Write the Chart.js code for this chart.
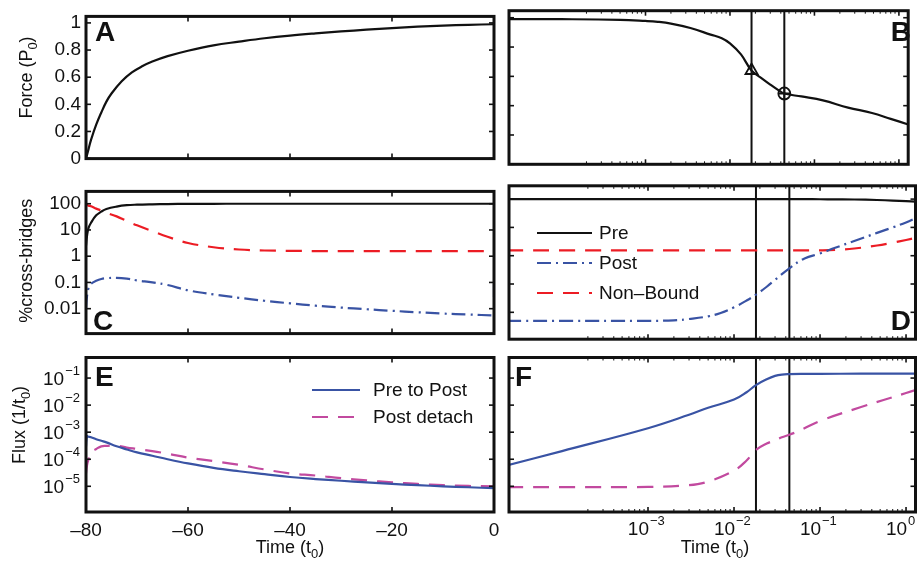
<!DOCTYPE html>
<html>
<head>
<meta charset="utf-8">
<script src="https://cdn.jsdelivr.net/npm/chart.js@4.4.1/dist/chart.umd.min.js"></script>
<style>
  body { margin: 0; background: #fff; }
  #wrap { position: relative; width: 917px; height: 569px; overflow: hidden; }
  canvas { position: absolute; }
</style>
</head>
<body>
<div id="wrap">
  <canvas id="pA" width="500" height="175" style="left:0;top:0"></canvas>
  <canvas id="pB" width="417" height="175" style="left:500px;top:0"></canvas>
  <canvas id="pC" width="500" height="175" style="left:0;top:175px"></canvas>
  <canvas id="pD" width="417" height="175" style="left:500px;top:175px"></canvas>
  <canvas id="pE" width="500" height="219" style="left:0;top:350px"></canvas>
  <canvas id="pF" width="417" height="219" style="left:500px;top:350px"></canvas>
</div>
<script>
var FONT = '"Liberation Sans", Arial, Helvetica, sans-serif';
Chart.defaults.font.family = FONT;
Chart.defaults.font.size = 19;
Chart.defaults.color = '#111';

var INK = '#111', RED = '#ec1c24', BLUE = '#3953a4', MAGENTA = '#c24a9f';

// ---- axis ranges / ticks
var TMIN = Math.pow(10, -4.616), TMAX = Math.pow(10, 0.11);
var FORCE_MAX = 1.048;
var PCT_MIN = Math.pow(10, -2.95), PCT_MAX = Math.pow(10, 2.47);
var FLUX_MIN = Math.pow(10, -5.95), FLUX_MAX = Math.pow(10, -0.24);

var leftTimeTicks = [-80, -60, -40, -20, 0];
var logTimeTicks = [1e-3, 1e-2, 1e-1, 1];
var forceTicks = [0, 0.2, 0.4, 0.6, 0.8, 1];
var bridgeTicks = [0.01, 0.1, 1, 10, 100];
var fluxTicks = [1e-5, 1e-4, 1e-3, 1e-2, 1e-1];

var seriesNames = ['Pre', 'Post', 'Non\u2013Bound'];
var fluxNames = ['Pre to Post', 'Post detach'];

// switch times (vertical lines, markers)
var switchTimes = [0.018, 0.044];

// ---- A: force during activation
var timeA = [-80, -79.5, -79, -78, -77, -76, -75, -73, -71, -69, -67, -64, -60, -55, -50, -45, -40, -35, -30, -25, -20, -15, -10, -5, 0];
var forceA = [0, 0.07, 0.14, 0.25, 0.34, 0.42, 0.48, 0.57, 0.635, 0.68, 0.715, 0.755, 0.795, 0.835, 0.862, 0.887, 0.907, 0.923, 0.937, 0.95, 0.962, 0.972, 0.98, 0.986, 0.99];

// ---- B: force after release (log time)
var timeB = [2.3e-5, 1e-4, 5e-4, 1e-3, 1.4e-3, 2e-3, 3.4e-3, 5.9e-3, 0.008, 0.01, 0.0135, 0.018, 0.024, 0.03, 0.037, 0.044, 0.07, 0.126, 0.25, 0.48, 0.8, 1.29];
var forceB = [0.99, 0.99, 0.986, 0.978, 0.972, 0.96, 0.93, 0.885, 0.86, 0.825, 0.75, 0.64, 0.585, 0.544, 0.508, 0.483, 0.463, 0.436, 0.387, 0.35, 0.31, 0.272];

// ---- C: % cross-bridges during activation
var timeC = [-80, -79.8, -79.5, -79, -78, -77, -76, -74, -72, -70, -67, -64, -60, -55, -50, -45, -40, -35, -30, -25, -20, -15, -10, -5, 0];
var preC = [2.5, 6, 12, 19, 36, 50, 63, 78, 88, 92, 95, 97, 98.5, 99.5, 100, 100, 100, 100, 100, 100, 100, 100, 100, 100, 100];
var nonC = [100, 90, 85, 80, 65, 55, 45, 33, 22, 15, 9, 5.5, 3.2, 2.2, 1.8, 1.65, 1.6, 1.57, 1.55, 1.55, 1.55, 1.55, 1.55, 1.55, 1.55];
var postC = [0.01, 0.03, 0.06, 0.09, 0.115, 0.135, 0.145, 0.15, 0.14, 0.12, 0.1, 0.08, 0.05, 0.035, 0.026, 0.02, 0.016, 0.013, 0.011, 0.0095, 0.0083, 0.0073, 0.0065, 0.006, 0.0055];
var timeCEnd = [0, 0];
var postCEnd = [0.028, 0.09];

// ---- D: % cross-bridges after release
var timeD = [2.3e-5, 1e-4, 1e-3, 2e-3, 3e-3, 5e-3, 7e-3, 0.01, 0.014, 0.018, 0.024, 0.03, 0.044, 0.066, 0.1, 0.15, 0.25, 0.46, 0.7, 1.0, 1.32];
var preD = [100, 100, 100, 100, 100, 100, 100, 100, 100, 100, 100, 100, 100, 100, 99, 98, 97, 93, 89, 85, 82];
var nonD = [1.55, 1.55, 1.55, 1.55, 1.55, 1.55, 1.55, 1.55, 1.55, 1.55, 1.55, 1.55, 1.55, 1.55, 1.55, 1.6, 1.8, 2.3, 2.9, 3.6, 4.3];
var postD = [0.005, 0.005, 0.005, 0.0052, 0.0058, 0.0072, 0.0095, 0.015, 0.026, 0.042, 0.08, 0.14, 0.36, 0.8, 1.2, 1.9, 3.3, 6.4, 10, 15, 22];

// ---- E: flux during activation
var timeE = [-80, -79.8, -79.5, -79, -78, -77, -76, -74, -72, -70, -67, -64, -60, -55, -50, -45, -40, -35, -30, -25, -20, -15, -10, -5, 0];
var preToPostE = [3e-4, 7e-4, 6.8e-4, 6.5e-4, 5.5e-4, 4.8e-4, 4.2e-4, 3e-4, 2.3e-4, 1.8e-4, 1.35e-4, 1e-4, 7e-5, 4.8e-5, 3.6e-5, 2.8e-5, 2.2e-5, 1.85e-5, 1.6e-5, 1.4e-5, 1.22e-5, 1.1e-5, 1e-5, 9.2e-6, 8.5e-6];
var detachE = [3e-5, 6e-5, 1e-4, 1.8e-4, 2.4e-4, 3e-4, 3.1e-4, 3.2e-4, 2.7e-4, 2.4e-4, 2e-4, 1.6e-4, 1.15e-4, 8.5e-5, 6.2e-5, 4.2e-5, 3e-5, 2.5e-5, 2e-5, 1.65e-5, 1.4e-5, 1.22e-5, 1.1e-5, 1.03e-5, 1e-5];

// ---- F: flux after release
var timeF = [2.3e-5, 1e-4, 1e-3, 3e-3, 5e-3, 0.01, 0.014, 0.018, 0.024, 0.03, 0.036, 0.044, 0.06, 0.1, 0.3, 1.0, 1.32];
var preToPostF = [5.9e-5, 2e-4, 1.4e-3, 4.4e-3, 8e-3, 0.016, 0.03, 0.055, 0.09, 0.12, 0.135, 0.14, 0.143, 0.144, 0.145, 0.145, 0.145];
var detachF = [9.3e-6, 9.3e-6, 9.5e-6, 1.1e-5, 1.5e-5, 3.8e-5, 9e-5, 2.2e-4, 3.8e-4, 5e-4, 6.5e-4, 8e-4, 1.2e-3, 2.6e-3, 8.5e-3, 0.028, 0.037];

// minor ticks for log time axis (decoration only)
var logTimeMinor = [];
for (var d = -4; d <= -1; d++) for (var m = 2; m <= 9; m++) logTimeMinor.push(m * Math.pow(10, d));

function pts(xs, ys) {
  return xs.map(function (x, i) { return { x: x, y: ys[i] }; });
}

function curve(label, xs, ys, color, dash) {
  return {
    label: label, data: pts(xs, ys), borderColor: color, borderWidth: 2.2,
    borderDash: dash || [], pointRadius: 0, fill: false, tension: 0.4
  };
}

function vline(t, lo, hi) {
  return { label: '', data: [{ x: t, y: lo }, { x: t, y: hi }], borderColor: INK, borderWidth: 2, pointRadius: 0, fill: false, tension: 0 };
}

function marker(t, ys, xs, style, r) {
  var i = xs.indexOf(t);
  return {
    label: '', data: [{ x: t, y: ys[i] }], showLine: false, pointStyle: style, pointRadius: r,
    borderColor: INK, backgroundColor: 'rgba(0,0,0,0)', pointBorderWidth: 1.8
  };
}

// rich text: parts [{t, sub}]
function richWidth(ctx, parts) {
  var w = 0;
  parts.forEach(function (p) { ctx.font = (p.sub ? '13px ' : '18px ') + FONT; w += ctx.measureText(p.t).width; });
  return w;
}
function drawRich(ctx, parts, cx, base, rot) {
  ctx.save();
  ctx.translate(cx, base);
  if (rot) ctx.rotate(rot);
  ctx.textAlign = 'left'; ctx.textBaseline = 'alphabetic'; ctx.fillStyle = INK;
  var x = -richWidth(ctx, parts) / 2;
  parts.forEach(function (p) {
    ctx.font = (p.sub ? '13px ' : '18px ') + FONT;
    ctx.fillText(p.t, x, p.sub ? 5 : 0);
    x += ctx.measureText(p.t).width;
  });
  ctx.restore();
}

function drawPow(ctx, x, base, exp, align) {
  var e = exp < 0 ? '\u2212' + (-exp) : String(exp);
  ctx.textAlign = 'left'; ctx.textBaseline = 'alphabetic'; ctx.fillStyle = INK;
  ctx.font = '19px ' + FONT;
  var w1 = ctx.measureText('10').width;
  ctx.font = '13px ' + FONT;
  var w2 = ctx.measureText(e).width;
  var x0 = align === 'right' ? x - w1 - w2 - 1 : x - w1 + 1;
  ctx.font = '19px ' + FONT;
  ctx.fillText('10', x0, base);
  ctx.font = '13px ' + FONT;
  ctx.fillText(e, x0 + w1 + 1, base - 10);
}

var framePlugin = {
  id: 'frame',
  afterDatasetsDraw: function (chart, args, o) {
    var ctx = chart.ctx, a = chart.chartArea, xs = chart.scales.x, ys = chart.scales.y;
    ctx.save();
    ctx.strokeStyle = INK;
    ctx.setLineDash([]);
    function seg(x1, y1, x2, y2) { ctx.beginPath(); ctx.moveTo(x1, y1); ctx.lineTo(x2, y2); ctx.stroke(); }
    ctx.lineWidth = 1.6;
    (o.xMajor || []).forEach(function (v) {
      var p = xs.getPixelForValue(v);
      seg(p, a.bottom, p, a.bottom - 5); seg(p, a.top, p, a.top + 5);
    });
    (o.yMajor || []).forEach(function (v) {
      var p = ys.getPixelForValue(v);
      seg(a.left, p, a.left + 5, p); seg(a.right, p, a.right - 5, p);
    });
    ctx.lineWidth = 1;
    (o.xMinor || []).forEach(function (v) {
      var p = xs.getPixelForValue(v);
      if (p <= a.left || p >= a.right) return;
      seg(p, a.bottom, p, a.bottom - 3); seg(p, a.top, p, a.top + 3);
    });
    ctx.lineWidth = 3;
    ctx.strokeRect(a.left, a.top, a.right - a.left, a.bottom - a.top);

    if (o.letter) {
      ctx.font = 'bold 28px ' + FONT; ctx.fillStyle = INK;
      ctx.textBaseline = 'alphabetic'; ctx.textAlign = o.letter[3];
      ctx.fillText(o.letter[0], o.letter[1], o.letter[2]);
    }
    if (o.legend) {
      var L = o.legend;
      ctx.font = '19px ' + FONT; ctx.textBaseline = 'middle'; ctx.textAlign = 'left';
      L.items.forEach(function (di, i) {
        var ds = chart.data.datasets[di], y = L.ys[i];
        ctx.strokeStyle = ds.borderColor; ctx.lineWidth = ds.borderWidth;
        ctx.setLineDash(ds.borderDash || []);
        seg(L.x0, y, L.x1, y);
        ctx.setLineDash([]);
        ctx.fillStyle = INK;
        ctx.fillText(ds.label, L.tx, y + 1);
      });
    }
    if (o.yPow) {
      fluxTicks.forEach(function (v) {
        drawPow(ctx, a.left - 6, ys.getPixelForValue(v) + 7, Math.round(Math.log10(v)), 'right');
      });
    }
    if (o.xPow) {
      logTimeTicks.forEach(function (v) {
        drawPow(ctx, xs.getPixelForValue(v), a.bottom + 23, Math.round(Math.log10(v)), 'left');
      });
    }
    (o.titles || []).forEach(function (t) { drawRich(ctx, t.parts, t.x, t.y, t.rot); });
    ctx.restore();
  }
};

function axis(type, min, max, show, extra) {
  var s = {
    type: type, min: min, max: max, display: show,
    grid: { display: false, drawTicks: false }, border: { display: false },
    ticks: { autoSkip: false, maxRotation: 0, minRotation: 0, color: INK, font: { size: 19 } }
  };
  if (extra) {
    if (extra.ticks) Object.assign(s.ticks, extra.ticks);
    if (extra.tickValues) s.afterBuildTicks = function (sc) { sc.ticks = extra.tickValues.map(function (v) { return { value: v }; }); };
    if (extra.width) s.afterFit = function (sc) { sc.width = extra.width; };
    if (extra.height) s.afterFit = function (sc) { sc.height = extra.height; sc.paddingLeft = 0; sc.paddingRight = 0; };
  }
  return s;
}

function makeChart(id, datasets, scales, padding, frame) {
  return new Chart(document.getElementById(id), {
    type: 'line',
    data: { datasets: datasets },
    options: {
      responsive: false, animation: false, events: [],
      layout: { padding: padding },
      plugins: { legend: { display: false }, tooltip: { enabled: false }, frame: frame },
      scales: scales
    },
    plugins: [framePlugin]
  });
}

var yTitleA = [{ t: 'Force (P' }, { t: '0', sub: true }, { t: ')' }];
var yTitleC = [{ t: '%cross-bridges' }];
var yTitleE = [{ t: 'Flux (1/t' }, { t: '0', sub: true }, { t: ')' }];
var xTitle = [{ t: 'Time (t' }, { t: '0', sub: true }, { t: ')' }];

// A
makeChart('pA',
  [curve('', timeA, forceA, INK)],
  {
    x: axis('linear', -80, 0, false),
    y: axis('linear', 0, FORCE_MAX, true, {
      tickValues: forceTicks, width: 86,
      ticks: { padding: 5, callback: function (v) { return (v === 0 || v === 1) ? String(v) : v.toFixed(1); } }
    })
  },
  { top: 10.7, bottom: 10.7, right: 6 },
  { xMajor: leftTimeTicks, yMajor: forceTicks, letter: ['A', 95, 40.5, 'left'],
    titles: [{ parts: yTitleA, x: 32, y: 77.5, rot: -Math.PI / 2 }] }
);

// B
makeChart('pB',
  [
    curve('', timeB, forceB, INK),
    vline(switchTimes[0], 0, FORCE_MAX), vline(switchTimes[1], 0, FORCE_MAX),
    marker(switchTimes[0], forceB, timeB, 'triangle', 7),
    marker(switchTimes[1], forceB, timeB, 'circle', 6),
    marker(switchTimes[1], forceB, timeB, 'cross', 6)
  ],
  { x: axis('logarithmic', TMIN, TMAX, false), y: axis('linear', 0, FORCE_MAX, false) },
  { top: 10.7, bottom: 10.7, left: 9, right: 1.5 },
  { xMajor: logTimeTicks, xMinor: logTimeMinor, yMajor: forceTicks, letter: ['B', 411, 40.5, 'right'] }
);

// C
makeChart('pC',
  [
    curve(seriesNames[0], timeC, preC, INK),
    curve(seriesNames[1], timeC, postC, BLUE, [14, 5, 2, 5]),
    curve(seriesNames[2], timeC, nonC, RED, [16, 10]),
    { label: '', data: pts(timeCEnd, postCEnd), borderColor: BLUE, borderWidth: 2.2, pointRadius: 0, tension: 0 }
  ],
  {
    x: axis('linear', -80, 0, false),
    y: axis('logarithmic', PCT_MIN, PCT_MAX, true, {
      tickValues: bridgeTicks, width: 86,
      ticks: { padding: 5, callback: function (v) { return String(v); } }
    })
  },
  { top: 10.8, bottom: 10.8, right: 6 },
  { xMajor: leftTimeTicks, yMajor: bridgeTicks, letter: ['C', 93, 155, 'left'],
    titles: [{ parts: yTitleC, x: 32, y: 85.7, rot: -Math.PI / 2 }] }
);

// D
makeChart('pD',
  [
    curve(seriesNames[0], timeD, preD, INK),
    curve(seriesNames[1], timeD, postD, BLUE, [14, 5, 2, 5]),
    curve(seriesNames[2], timeD, nonD, RED, [16, 10]),
    vline(switchTimes[0], PCT_MIN, PCT_MAX), vline(switchTimes[1], PCT_MIN, PCT_MAX)
  ],
  { x: axis('logarithmic', TMIN, TMAX, false), y: axis('logarithmic', PCT_MIN, PCT_MAX, false) },
  { top: 10.8, bottom: 10.8, left: 9, right: 1.5 },
  { xMajor: logTimeTicks, xMinor: logTimeMinor, yMajor: bridgeTicks, letter: ['D', 411, 155, 'right'],
    legend: { items: [0, 1, 2], ys: [58, 88, 118], x0: 37, x1: 92, tx: 99 } }
);

// E
makeChart('pE',
  [
    curve(fluxNames[0], timeE, preToPostE, BLUE),
    curve(fluxNames[1], timeE, detachE, MAGENTA, [16, 10])
  ],
  {
    x: axis('linear', -80, 0, true, {
      tickValues: leftTimeTicks, height: 57,
      ticks: { padding: 7, callback: function (v) { return v < 0 ? '\u2013' + (-v) : String(v); } }
    }),
    y: axis('logarithmic', FLUX_MIN, FLUX_MAX, false)
  },
  { top: 7.5, left: 86, right: 6 },
  { xMajor: leftTimeTicks, yMajor: fluxTicks, yPow: true, letter: ['E', 95, 36, 'left'],
    legend: { items: [0, 1], ys: [40, 67], x0: 312, x1: 360, tx: 373 },
    titles: [
      { parts: yTitleE, x: 25, y: 75, rot: -Math.PI / 2 },
      { parts: xTitle, x: 290, y: 203 }
    ] }
);

// F
makeChart('pF',
  [
    curve(fluxNames[0], timeF, preToPostF, BLUE),
    curve(fluxNames[1], timeF, detachF, MAGENTA, [16, 10]),
    vline(switchTimes[0], FLUX_MIN, FLUX_MAX), vline(switchTimes[1], FLUX_MIN, FLUX_MAX)
  ],
  { x: axis('logarithmic', TMIN, TMAX, false), y: axis('logarithmic', FLUX_MIN, FLUX_MAX, false) },
  { top: 7.5, bottom: 57, left: 9, right: 1.5 },
  { xMajor: logTimeTicks, xMinor: logTimeMinor, yMajor: fluxTicks, xPow: true, letter: ['F', 15, 36, 'left'],
    titles: [{ parts: xTitle, x: 215, y: 203 }] }
);
</script>
</body>
</html>
